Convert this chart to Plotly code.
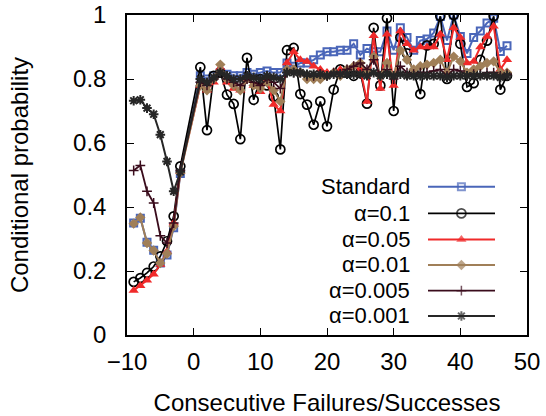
import plotly.graph_objects as go

# x positions (consecutive failures negative, successes positive)
x_vals = [-9, -8, -7, -6, -5, -4, -3, -2,
          1, 2, 3, 4, 5, 6, 7, 8, 9, 10, 11, 12, 13, 14, 15, 16, 17, 18, 19, 20,
          21, 22, 23, 24, 25, 26, 27, 28, 29, 30, 31, 32, 33, 34, 35, 36, 37, 38,
          39, 40, 41, 42, 43, 44, 45, 46, 47]

standard = [0.35, 0.365, 0.29, 0.265, 0.225, 0.25, 0.335, 0.505,
            0.81, 0.80, 0.81, 0.82, 0.815, 0.81, 0.81, 0.82, 0.815,
            0.82, 0.825, 0.82, 0.82, 0.85, 0.84, 0.85, 0.85,
            0.86, 0.875, 0.885, 0.885, 0.89, 0.89, 0.91, 0.875, 0.895, 0.885, 0.885,
            0.95, 0.89, 0.96, 0.93, 0.89, 0.92, 0.925, 0.944, 0.995, 0.92, 1.0, 0.933,
            0.88, 0.93, 0.95, 0.975, 0.99, 0.886, 0.904]

alpha_01 = [0.166, 0.178, 0.194, 0.214, 0.246, 0.293, 0.371, 0.527,
            0.837, 0.64, 0.81, 0.82, 0.751, 0.722, 0.612, 0.866, 0.735,
            0.80, 0.78, 0.745, 0.58, 0.89, 0.897, 0.753, 0.72,
            0.657, 0.73, 0.652, 0.767, 0.83, 0.82, 0.81, 0.82, 0.723, 0.96, 0.78,
            0.99, 0.70, 0.93, 0.88, 0.82, 0.753, 0.905, 0.91, 0.996, 0.80, 1.0, 0.91,
            0.775, 0.787, 0.86, 0.92, 0.996, 0.767, 0.81]

alpha_005 = [0.139, 0.154, 0.171, 0.19, 0.22, 0.261, 0.35, 0.51,
             0.78, 0.765, 0.79, 0.835, 0.79, 0.77, 0.765, 0.80, 0.78,
             0.76, 0.80, 0.72, 0.70, 0.85, 0.885, 0.86, 0.855,
             0.84, 0.83, 0.82, 0.82, 0.83, 0.83, 0.84, 0.83, 0.73, 0.935, 0.77,
             0.94, 0.78, 0.95, 0.91, 0.89, 0.90, 0.90, 0.90, 0.94, 0.86, 0.96, 0.93,
             0.85, 0.855, 0.90, 0.933, 0.965, 0.83, 0.86]

alpha_001 = [0.348, 0.3675, 0.2875, 0.264, 0.225, 0.254, 0.34, 0.506,
             0.78, 0.765, 0.80, 0.845, 0.80, 0.78, 0.765, 0.80, 0.78,
             0.77, 0.79, 0.765, 0.73, 0.83, 0.83, 0.82, 0.80,
             0.80, 0.80, 0.81, 0.82, 0.81, 0.83, 0.84, 0.85, 0.82, 0.87, 0.81,
             0.85, 0.81, 0.89, 0.86, 0.83, 0.84, 0.845, 0.85, 0.86, 0.82, 0.87, 0.855,
             0.82, 0.83, 0.84, 0.85, 0.855, 0.82, 0.82]

alpha_0005 = [0.514, 0.53, 0.449, 0.4125, 0.31, 0.2875, 0.35, 0.515,
              0.79, 0.78, 0.80, 0.82, 0.80, 0.79, 0.78, 0.80, 0.79,
              0.78, 0.80, 0.79, 0.77, 0.82, 0.82, 0.82, 0.81,
              0.81, 0.815, 0.81, 0.82, 0.815, 0.83, 0.84, 0.85, 0.83, 0.86, 0.81,
              0.83, 0.80, 0.84, 0.82, 0.815, 0.82, 0.82, 0.825, 0.83, 0.81, 0.83, 0.825,
              0.81, 0.815, 0.815, 0.82, 0.82, 0.81, 0.815]

alpha_0001 = [0.732, 0.735, 0.709, 0.69, 0.626, 0.5425, 0.449, 0.51,
              0.80, 0.79, 0.805, 0.82, 0.81, 0.80, 0.80, 0.81, 0.805,
              0.80, 0.81, 0.805, 0.80, 0.82, 0.82, 0.82, 0.815,
              0.815, 0.815, 0.81, 0.815, 0.815, 0.815, 0.815, 0.815, 0.81, 0.82, 0.81,
              0.815, 0.81, 0.815, 0.81, 0.81, 0.81, 0.81, 0.81, 0.81, 0.805, 0.81, 0.81,
              0.81, 0.81, 0.81, 0.81, 0.81, 0.805, 0.81]

series_names = ["Standard", "α=0.1", "α=0.05", "α=0.01", "α=0.005", "α=0.001"]
series_data = [standard, alpha_01, alpha_005, alpha_001, alpha_0005, alpha_0001]

x_ticks = [-10, 0, 10, 20, 30, 40, 50]
y_ticks = [0, 0.2, 0.4, 0.6, 0.8, 1]
y_tick_text = ["0", "0.2", "0.4", "0.6", "0.8", "1"]

styles = [
    dict(color="#4a66b9", symbol="square-open", size=7, mlw=2, lw=2),
    dict(color="#000000", symbol="circle-open", size=9, mlw=1.7, lw=1.7),
    dict(color="#f02a2a", symbol="triangle-up", size=9, mlw=0, lw=2),
    dict(color="#a07f58", symbol="diamond", size=8, mlw=0, lw=2),
    dict(color="#3a0c1c", symbol="cross-thin-open", size=7, mlw=1.5, lw=1.8),
    dict(color="#262626", symbol="asterisk-open", size=8, mlw=2, lw=2),
]

FONT = "Liberation Sans, Arial, Helvetica, sans-serif"

fig = go.Figure()
for name, ys, st in zip(series_names, series_data, styles):
    fig.add_trace(go.Scatter(
        x=x_vals, y=ys, mode="lines+markers", name=name,
        line=dict(color=st["color"], width=st["lw"]),
        marker=dict(symbol=st["symbol"], size=st["size"], color=st["color"],
                    line=dict(color=st["color"], width=st["mlw"])),
        showlegend=False,
    ))

# gnuplot-style key: right-aligned text with line sample to its right
row_y = [0.4634, 0.380, 0.2984, 0.2188, 0.1384, 0.0594]
for name, st, ry in zip(series_names, styles, row_y):
    fig.add_trace(go.Scatter(
        x=[0.7525, 0.836, 0.92], y=[ry, ry, ry], mode="lines+markers",
        xaxis="x2", yaxis="y2", showlegend=False, hoverinfo="skip",
        line=dict(color=st["color"], width=st["lw"]),
        marker=dict(symbol=st["symbol"], size=[0, st["size"], 0], color=st["color"],
                    line=dict(color=st["color"], width=st["mlw"])),
    ))
    fig.add_annotation(x=0.712, y=ry, xref="paper", yref="paper", text=name,
                       showarrow=False, xanchor="right", yanchor="middle",
                       font=dict(family=FONT, size=22, color="#000"))

axis_common = dict(showgrid=False, zeroline=False, showline=True, linecolor="#000",
                   linewidth=1.5, mirror="allticks", ticks="inside", ticklen=7,
                   tickwidth=1, tickcolor="#000", automargin=False,
                   tickfont=dict(family=FONT, size=24, color="#000"))

fig.update_layout(
    width=546, height=416,
    margin=dict(l=127, r=19, t=15, b=81),
    paper_bgcolor="white", plot_bgcolor="white",
    showlegend=False,
    xaxis=dict(range=[-10, 50], tickvals=x_ticks, ticklabelstandoff=4,
               title=dict(text="Consecutive Failures/Successes",
                          font=dict(family=FONT, size=24, color="#000"), standoff=22),
               **axis_common),
    yaxis=dict(range=[0, 1], tickvals=y_ticks, ticktext=y_tick_text, ticklabelstandoff=14,
               title=dict(text="Conditional probability",
                          font=dict(family=FONT, size=24, color="#000"), standoff=38),
               **axis_common),
    xaxis2=dict(range=[0, 1], overlaying="x", visible=False, anchor="y2"),
    yaxis2=dict(range=[0, 1], overlaying="y", visible=False, anchor="x2"),
)

fig.write_html("out.html")
